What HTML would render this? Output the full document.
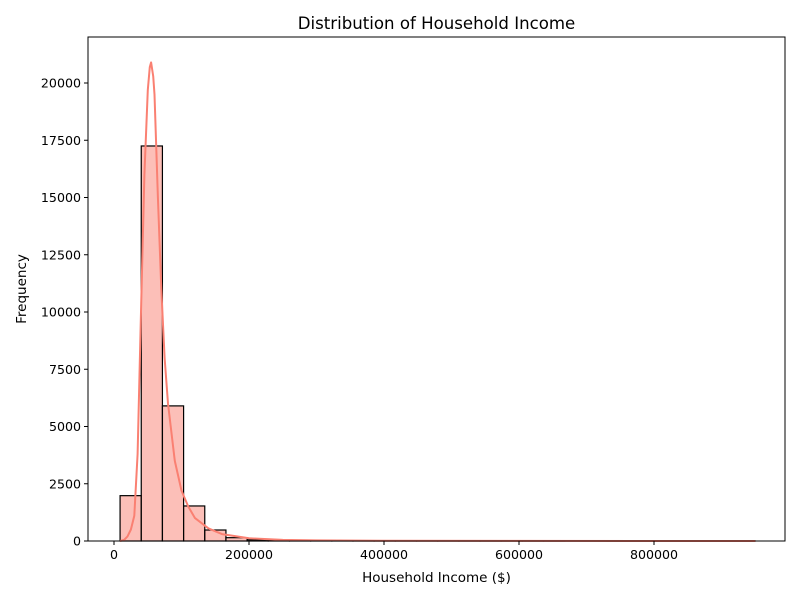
<!DOCTYPE html>
<html><head><meta charset="utf-8"><style>
body{margin:0;background:#fff;font-family:"Liberation Sans","DejaVu Sans",sans-serif}
text{font-family:"DejaVu Sans","Liberation Sans",sans-serif;fill:#000}
</style></head><body>
<svg id="c" width="800" height="600"></svg>
<script>
const binStart = 9000;
const binWidth = 31367;
const binCounts = [1980,17250,5900,1530,480,145,55,25,12,8,5,4,3,2,2,1,1,1,1,1,1,0,0,1,0,0,0,0,0,1];
const kdeIncome = [9000,15000,20000,25000,30000,35000,40000,45000,50000,53000,55000,58000,60000,65000,70000,75000,80000,90000,100000,110000,120000,140000,160000,200000,250000,300000,400000,600000,950000];
const kdeValue = [0,50,200,500,1100,3800,10000,16000,19700,20700,20900,20300,19500,15000,11000,8000,6000,3500,2200,1500,1000,550,300,120,50,25,10,3,0];
const xTicks = [0,200000,400000,600000,800000];
const yTicks = [0,2500,5000,7500,10000,12500,15000,17500,20000];

const L=88,R=785,T=37,B=541;
const x=v=>114+v/200000*135;
const y=v=>B-v/20000*458;
const svg=document.getElementById('c');
const NS='http://www.w3.org/2000/svg';
function mk(tag,attrs,parent){const e=document.createElementNS(NS,tag);for(const k in attrs)e.setAttribute(k,attrs[k]);(parent||svg).appendChild(e);return e;}

binCounts.forEach((c,i)=>{
  const r=mk('rect',{x:x(binStart+i*binWidth),y:y(c),width:x(binStart+(i+1)*binWidth)-x(binStart+i*binWidth),height:B-y(c),fill:'rgba(250,128,114,0.5)',stroke:'#000','stroke-width':1.2});
  
  
});
const pts=kdeIncome.map((v,i)=>x(v).toFixed(1)+','+y(kdeValue[i]).toFixed(1)).join(' ');
const kde=mk('polyline',{points:pts,fill:'none',stroke:'#fa8072','stroke-width':2,'stroke-linejoin':'round'});



const frame=mk('rect',{x:L,y:T,width:R-L,height:B-T,fill:'none',stroke:'#000','stroke-width':1});



xTicks.forEach(v=>{
  mk('line',{x1:x(v),x2:x(v),y1:B,y2:B+4,stroke:'#000'});
  const t=mk('text',{x:x(v),y:B+18,'text-anchor':'middle','font-size':12.6});
  t.textContent=v;
  
  
});
yTicks.forEach(v=>{
  mk('line',{x1:L-4,x2:L,y1:y(v),y2:y(v),stroke:'#000'});
  const t=mk('text',{x:L-7,y:y(v)+4.5,'text-anchor':'end','font-size':12.6});
  t.textContent=v;
  
  
});
</script>
<svg width="800" height="600" style="position:absolute;left:0;top:0;pointer-events:none">
<text x="436.5" y="29" text-anchor="middle" font-size="16.6">Distribution of Household Income</text>
<text x="436.5" y="582" text-anchor="middle" font-size="13.5">Household Income ($)</text>
<text transform="translate(26,289) rotate(-90)" text-anchor="middle" font-size="13.5">Frequency</text>
</svg>
</body></html>
